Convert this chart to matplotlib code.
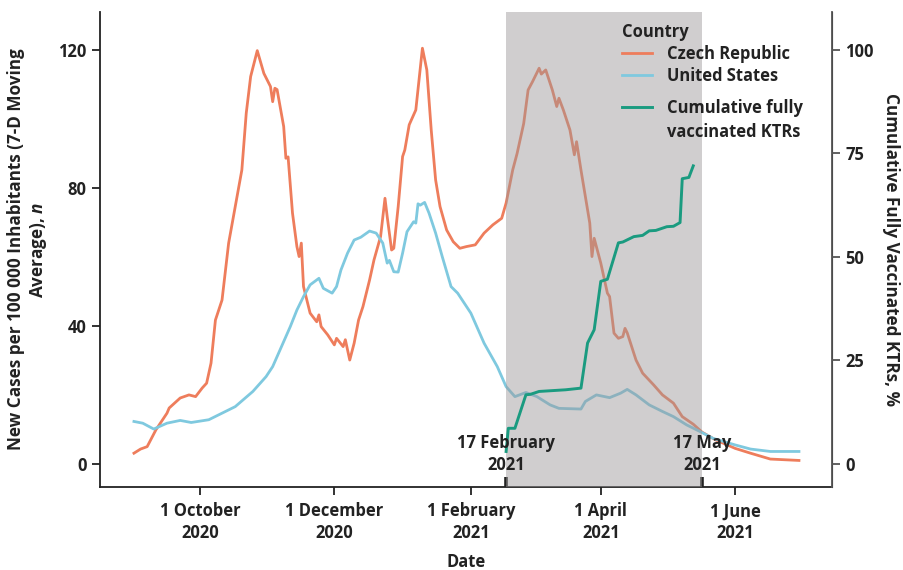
import numpy as np
import matplotlib
matplotlib.use("Agg")
import matplotlib.pyplot as plt
import matplotlib.dates as mdates
from matplotlib.lines import Line2D
import pandas as pd

plt.rcParams['font.family'] = ['Open Sans', 'DejaVu Sans']
plt.rcParams['font.weight'] = 'bold'
plt.rcParams['axes.labelweight'] = 'bold'
plt.rcParams['mathtext.fontset'] = 'custom'
plt.rcParams['mathtext.it'] = 'Open Sans:italic:bold'
plt.rcParams['mathtext.rm'] = 'Open Sans:bold'

# Czech Republic, new cases per 100 000 (7-day average)
cz_dates = ["2020-09-01", "2020-09-04", "2020-09-07", "2020-09-11", "2020-09-16", "2020-09-17",
            "2020-09-22", "2020-09-26", "2020-09-29", "2020-10-02", "2020-10-04", "2020-10-06",
            "2020-10-08", "2020-10-11", "2020-10-14", "2020-10-17", "2020-10-20", "2020-10-22",
            "2020-10-24", "2020-10-27", "2020-10-30", "2020-11-02", "2020-11-03", "2020-11-04",
            "2020-11-05", "2020-11-08", "2020-11-09", "2020-11-10", "2020-11-12", "2020-11-14",
            "2020-11-15", "2020-11-16", "2020-11-17", "2020-11-20", "2020-11-23", "2020-11-24",
            "2020-11-25", "2020-11-28", "2020-12-01", "2020-12-02", "2020-12-05", "2020-12-06",
            "2020-12-08", "2020-12-10", "2020-12-12", "2020-12-14", "2020-12-17", "2020-12-19",
            "2020-12-22", "2020-12-24", "2020-12-25", "2020-12-27", "2020-12-28", "2020-12-30",
            "2021-01-01", "2021-01-02", "2021-01-04", "2021-01-07", "2021-01-10", "2021-01-12",
            "2021-01-14", "2021-01-16", "2021-01-18", "2021-01-21", "2021-01-24", "2021-01-27",
            "2021-01-30", "2021-02-03", "2021-02-07", "2021-02-11", "2021-02-15", "2021-02-17",
            "2021-02-20", "2021-02-22", "2021-02-25", "2021-02-27", "2021-03-01", "2021-03-04",
            "2021-03-05", "2021-03-07", "2021-03-10", "2021-03-12", "2021-03-13", "2021-03-15",
            "2021-03-18", "2021-03-20", "2021-03-21", "2021-03-23", "2021-03-27", "2021-03-28",
            "2021-03-29", "2021-04-01", "2021-04-04", "2021-04-05", "2021-04-07", "2021-04-09",
            "2021-04-11", "2021-04-12", "2021-04-13", "2021-04-17", "2021-04-20", "2021-04-25",
            "2021-04-29", "2021-05-04", "2021-05-08", "2021-05-13", "2021-05-17", "2021-05-23",
            "2021-06-01", "2021-06-08", "2021-06-17", "2021-06-30"]
cz_cases = [3.1, 4.3, 5.0, 9.9, 14.7, 16.2,
            19.1, 20.0, 19.5, 22.0, 23.4, 29.2,
            41.7, 47.5, 64.0, 74.6, 85.2, 101.7,
            112.3, 119.8, 113.2, 109.4, 105.0, 108.9,
            108.5, 97.8, 88.6, 89.0, 72.7, 63.0,
            60.1, 64.0, 51.4, 43.7, 41.2, 43.2,
            39.8, 37.4, 34.5, 36.4, 34.0, 36.0,
            30.1, 35.0, 41.7, 45.6, 53.3, 59.1,
            65.9, 77.0, 71.7, 62.0, 62.5, 74.6,
            89.1, 91.0, 98.3, 102.6, 120.5, 114.2,
            96.8, 82.3, 74.6, 67.8, 64.4, 62.5,
            63.0, 63.5, 66.9, 69.3, 71.2, 75.6,
            85.2, 90.0, 98.7, 108.4, 110.8, 114.7,
            113.0, 114.2, 108.4, 103.6, 106.0, 102.6,
            96.8, 89.6, 93.4, 85.2, 69.8, 60.1,
            65.4, 58.2, 49.5, 48.5, 37.9, 36.4,
            36.9, 39.3, 38.0, 30.1, 26.3, 22.9,
            20.0, 17.6, 13.7, 11.5, 9.2, 7.0,
            4.5, 3.1, 1.4, 1.0]

# United States, new cases per 100 000 (7-day average)
us_dates = ["2020-09-01", "2020-09-05", "2020-09-10", "2020-09-16", "2020-09-22", "2020-09-27",
            "2020-10-05", "2020-10-11", "2020-10-17", "2020-10-25", "2020-10-31", "2020-11-03",
            "2020-11-07", "2020-11-11", "2020-11-14", "2020-11-17", "2020-11-20", "2020-11-24",
            "2020-11-26", "2020-11-30", "2020-12-02", "2020-12-04", "2020-12-07", "2020-12-10",
            "2020-12-13", "2020-12-17", "2020-12-20", "2020-12-23", "2020-12-25", "2020-12-26",
            "2020-12-28", "2020-12-30", "2021-01-01", "2021-01-03", "2021-01-06", "2021-01-07",
            "2021-01-08", "2021-01-09", "2021-01-11", "2021-01-13", "2021-01-16", "2021-01-19",
            "2021-01-23", "2021-01-26", "2021-02-01", "2021-02-07", "2021-02-13", "2021-02-17",
            "2021-02-21", "2021-02-26", "2021-03-03", "2021-03-09", "2021-03-13", "2021-03-23",
            "2021-03-25", "2021-03-30", "2021-04-05", "2021-04-10", "2021-04-13", "2021-04-17",
            "2021-04-23", "2021-04-29", "2021-05-04", "2021-05-10", "2021-05-16", "2021-05-22",
            "2021-06-01", "2021-06-08", "2021-06-17", "2021-06-30"]
us_cases = [12.3, 11.8, 10.1, 11.8, 12.6, 12.0,
            12.8, 14.7, 16.6, 21.0, 25.3, 28.2,
            34.0, 39.8, 44.6, 48.5, 51.9, 53.8,
            50.9, 49.5, 51.4, 56.2, 61.1, 64.9,
            65.7, 67.5, 66.9, 64.0, 58.2, 59.0,
            55.7, 55.6, 61.1, 67.3, 70.2, 69.8,
            75.4, 75.0, 75.8, 72.7, 66.9, 60.1,
            51.4, 49.5, 43.7, 35.0, 28.2, 22.4,
            19.5, 20.7, 19.5, 17.1, 16.1, 15.9,
            18.1, 20.0, 19.2, 20.5, 21.6, 20.0,
            17.1, 15.2, 13.7, 11.3, 9.4, 7.4,
            5.5, 4.3, 3.6, 3.6]

# cumulative fully vaccinated KTRs, %
vac_dates = ["2021-02-17", "2021-02-18", "2021-02-21", "2021-02-26", "2021-02-28", "2021-03-04",
             "2021-03-16", "2021-03-23", "2021-03-26", "2021-03-29", "2021-04-01", "2021-04-04",
             "2021-04-09", "2021-04-11", "2021-04-16", "2021-04-20", "2021-04-23", "2021-04-26",
             "2021-05-01", "2021-05-04", "2021-05-07", "2021-05-08", "2021-05-11", "2021-05-13"]
vac_pct = [3.0, 8.6, 8.6, 16.7, 16.8, 17.5,
           17.9, 18.3, 29.2, 32.4, 44.1, 44.6,
           53.4, 53.6, 54.9, 55.2, 56.3, 56.4,
           57.3, 57.4, 58.3, 68.9, 69.2, 72.0]

tick_dates = ["2020-10-01", "2020-12-01", "2021-02-01", "2021-04-01", "2021-06-01"]
tick_labels = ["1 October\n2020", "1 December\n2020", "1 February\n2021", "1 April\n2021", "1 June\n2021"]
mark_dates = ["2021-02-17", "2021-05-17"]
mark_labels = ["17 February\n2021", "17 May\n2021"]

cz_col = "#ee7d5c"
us_col = "#7fc9df"
vac_col = "#1a9b80"
dark = "#222222"
fs = 11.9

fig = plt.figure(figsize=(9.04, 5.70), dpi=100)
ax = fig.add_axes([100/904, 1-487/570, 732/904, 475/570])
ax2 = ax.twinx()

l_cz, = ax.plot(pd.to_datetime(cz_dates), cz_cases, color=cz_col, lw=2.0, zorder=2)
l_us, = ax.plot(pd.to_datetime(us_dates), us_cases, color=us_col, lw=2.0, zorder=2)
ax.axvspan(pd.Timestamp(mark_dates[0]), pd.Timestamp(mark_dates[1]),
           color="#9b9899", alpha=0.47, lw=0, zorder=3)
l_vac, = ax2.plot(pd.to_datetime(vac_dates), vac_pct, color=vac_col, lw=2.1)

ax.set_xlim(pd.Timestamp("2020-08-16 14:00"), pd.Timestamp("2021-07-15"))
ax.set_ylim(-6.7, 131)
ax2.set_ylim(-6.7*100/120, 131*100/120)

ax.set_xticks(pd.to_datetime(tick_dates))
ax.set_xticklabels(tick_labels)
for lbl in ax.get_xticklabels():
    lbl.set_linespacing(1.25)
ax.set_yticks([0, 40, 80, 120])
ax2.set_yticks([0, 25, 50, 75, 100])

ax.set_xticks(pd.to_datetime(mark_dates), minor=True)
ax.tick_params(axis='x', which='minor', direction='in', length=7, width=2.6,
               color=dark, labelbottom=False)
ax.tick_params(axis='x', which='major', length=6, width=1.3, color=dark,
               labelsize=fs, labelcolor=dark, pad=5)
ax.tick_params(axis='y', length=6, width=1.3, color=dark, labelsize=fs, labelcolor=dark)
ax2.tick_params(axis='y', length=6, width=1.3, color="#555555", labelsize=fs, labelcolor=dark)

for d, txt in zip(mark_dates, mark_labels):
    ax2.text(pd.Timestamp(d), 0.028, txt, transform=ax2.get_xaxis_transform(),
             ha='center', va='bottom', ma='center', fontsize=fs, color=dark,
             linespacing=1.25, zorder=5)

ax.spines['top'].set_visible(False)
ax2.spines['top'].set_visible(False)
for s in ['left', 'bottom']:
    ax.spines[s].set_linewidth(1.3)
    ax.spines[s].set_color(dark)
ax2.spines['right'].set_linewidth(1.3)
ax2.spines['right'].set_color("#555555")
ax2.spines['left'].set_visible(False)
ax2.spines['bottom'].set_visible(False)

ax.set_xlabel("Date", fontsize=fs, color=dark, labelpad=8, fontweight='bold')
ax.set_ylabel("New Cases per 100 000 Inhabitants (7-D Moving\nAverage), $\\mathit{n}$",
              fontsize=12.3, color=dark, labelpad=7, fontweight='bold')
ax2.set_ylabel("Cumulative Fully Vaccinated KTRs, %", fontsize=12.3, color=dark,
               rotation=270, labelpad=19, fontweight='bold')

leg1 = ax2.legend([l_cz, l_us], ["Czech Republic", "United States"], title="Country",
                  loc='upper left', bbox_to_anchor=(622/904, 1-23/570),
                  bbox_transform=fig.transFigure, frameon=False, fontsize=fs,
                  title_fontsize=fs, alignment='left', handlelength=1.8,
                  handletextpad=0.9, borderpad=0, borderaxespad=0, labelspacing=0.25)
for t in leg1.get_texts():
    t.set_color(dark)
leg1.get_title().set_color(dark)
leg1.get_title().set_fontweight('bold')
ax2.add_artist(leg1)
blank = Line2D([], [], color='none')
leg2 = ax2.legend([l_vac, blank], ["Cumulative fully", "vaccinated KTRs"],
                  loc='upper left', bbox_to_anchor=(622/904, 1-99/570),
                  bbox_transform=fig.transFigure, frameon=False, fontsize=fs,
                  handlelength=1.8, handletextpad=0.9, borderpad=0, borderaxespad=0,
                  labelspacing=0.35)
for t in leg2.get_texts():
    t.set_color(dark)

fig.savefig("out.png", dpi=100)
